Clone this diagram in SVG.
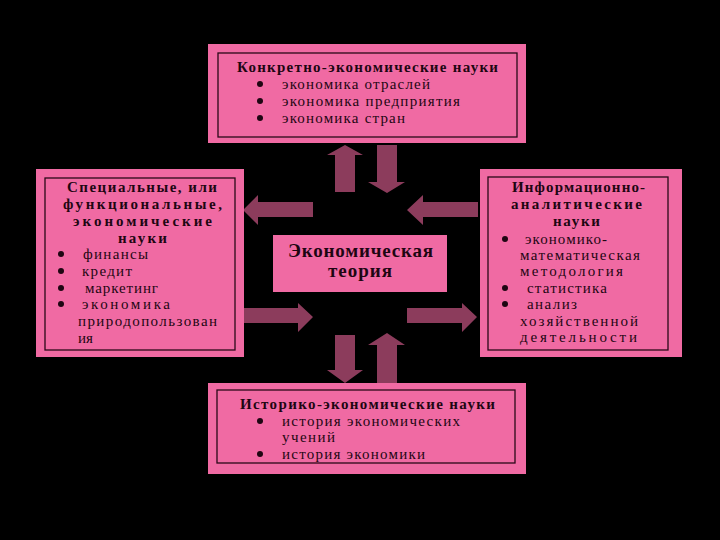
<svg xmlns="http://www.w3.org/2000/svg" width="720" height="540" viewBox="0 0 720 540">
<style>
.box{fill:#f06aa3}
.inner{fill:none;stroke:#2a0818;stroke-width:1.3}
.t{font-family:"Liberation Serif","DejaVu Serif",serif;font-size:15px;fill:#1e0612}
.b{font-weight:bold}
.big{font-size:19px}
.dot{fill:#1e0612}
.arr{fill:#8c3c5c}
</style>
<rect width="720" height="540" fill="#000"/>
<g id="connectors">
  <polygon class="arr" points="335,192 335,155 327,155 345,145 363,155 355,155 355,192"/>
  <polygon class="arr" points="377,145 397,145 397,182 405,182 387,193 368,182 377,182"/>
  <polygon class="arr" points="313,202 258,202 258,195 243,210 258,225 258,217 313,217"/>
  <polygon class="arr" points="478,202 423,202 423,195 407,210 423,225 423,217 478,217"/>
  <polygon class="arr" points="243,308 298,308 298,303 313,317 298,332 298,323 243,323"/>
  <polygon class="arr" points="407,308 462,308 462,303 477,317 462,332 462,323 407,323"/>
  <polygon class="arr" points="335,335 355,335 355,370 363,370 345,383 327,370 335,370"/>
  <polygon class="arr" points="377,383 377,345 368,345 387,333 405,345 397,345 397,383"/>
</g>
<g id="top">
  <rect class="box" x="208" y="44" width="318" height="99"/>
  <rect class="inner" x="218" y="53" width="299" height="84"/>
  <text class="t b" x="237" y="72" textLength="261" lengthAdjust="spacing">Конкретно-экономические науки</text>
  <circle class="dot" cx="260" cy="84" r="3"/>
  <circle class="dot" cx="260" cy="101" r="3"/>
  <circle class="dot" cx="260" cy="118" r="3"/>
  <text class="t" x="282" y="89" textLength="148" lengthAdjust="spacing">экономика отраслей</text>
  <text class="t" x="282" y="106" textLength="178" lengthAdjust="spacing">экономика предприятия</text>
  <text class="t" x="282" y="123" textLength="123" lengthAdjust="spacing">экономика стран</text>
</g>
<g id="left">
  <rect class="box" x="36" y="169" width="208" height="188"/>
  <rect class="inner" x="45" y="178" width="190" height="172"/>
  <text class="t b" x="67" y="192" textLength="150" lengthAdjust="spacing">Специальные, или</text>
  <text class="t b" x="63" y="209" textLength="159" lengthAdjust="spacing">функциональные,</text>
  <text class="t b" x="73" y="226" textLength="139" lengthAdjust="spacing">экономические</text>
  <text class="t b" x="118" y="243" textLength="49" lengthAdjust="spacing">науки</text>
  <circle class="dot" cx="61" cy="254" r="3"/>
  <circle class="dot" cx="61" cy="271" r="3"/>
  <circle class="dot" cx="61" cy="288" r="3"/>
  <circle class="dot" cx="61" cy="304" r="3"/>
  <text class="t" x="83" y="259" textLength="65" lengthAdjust="spacing">финансы</text>
  <text class="t" x="82" y="276" textLength="50" lengthAdjust="spacing">кредит</text>
  <text class="t" x="85" y="293" textLength="73" lengthAdjust="spacing">маркетинг</text>
  <text class="t" x="82" y="309" textLength="88" lengthAdjust="spacing">экономика</text>
  <text class="t" x="78" y="326" textLength="139" lengthAdjust="spacing">природопользован</text>
  <text class="t" x="78" y="343">ия</text>
</g>
<g id="right">
  <rect class="box" x="480" y="169" width="202" height="188"/>
  <rect class="inner" x="488" y="177" width="180" height="173"/>
  <text class="t b" x="512" y="192" textLength="133" lengthAdjust="spacing">Информационно-</text>
  <text class="t b" x="511" y="209" textLength="131" lengthAdjust="spacing">аналитические</text>
  <text class="t b" x="553" y="226" textLength="47" lengthAdjust="spacing">науки</text>
  <circle class="dot" cx="505" cy="239" r="3"/>
  <circle class="dot" cx="505" cy="288" r="3"/>
  <circle class="dot" cx="505" cy="304" r="3"/>
  <text class="t" x="525" y="244" textLength="82" lengthAdjust="spacing">экономико-</text>
  <text class="t" x="520" y="260" textLength="120" lengthAdjust="spacing">математическая</text>
  <text class="t" x="520" y="276" textLength="103" lengthAdjust="spacing">методология</text>
  <text class="t" x="527" y="293" textLength="80" lengthAdjust="spacing">статистика</text>
  <text class="t" x="527" y="309" textLength="50" lengthAdjust="spacing">анализ</text>
  <text class="t" x="520" y="326" textLength="118" lengthAdjust="spacing">хозяйственной</text>
  <text class="t" x="520" y="342" textLength="117" lengthAdjust="spacing">деятельности</text>
</g>
<g id="center">
  <rect class="box" x="273" y="235" width="174" height="57"/>
  <text class="t b big" x="288" y="257" textLength="145" lengthAdjust="spacing">Экономическая</text>
  <text class="t b big" x="328" y="277" textLength="64" lengthAdjust="spacing">теория</text>
</g>
<g id="bottom">
  <rect class="box" x="208" y="383" width="318" height="91"/>
  <rect class="inner" x="217" y="390" width="298" height="73"/>
  <text class="t b" x="240" y="409" textLength="255" lengthAdjust="spacing">Историко-экономические науки</text>
  <circle class="dot" cx="260" cy="421" r="3"/>
  <circle class="dot" cx="260" cy="454" r="3"/>
  <text class="t" x="282" y="426" textLength="178" lengthAdjust="spacing">история экономических</text>
  <text class="t" x="282" y="442" textLength="53" lengthAdjust="spacing">учений</text>
  <text class="t" x="282" y="459" textLength="143" lengthAdjust="spacing">история экономики</text>
</g>
</svg>
